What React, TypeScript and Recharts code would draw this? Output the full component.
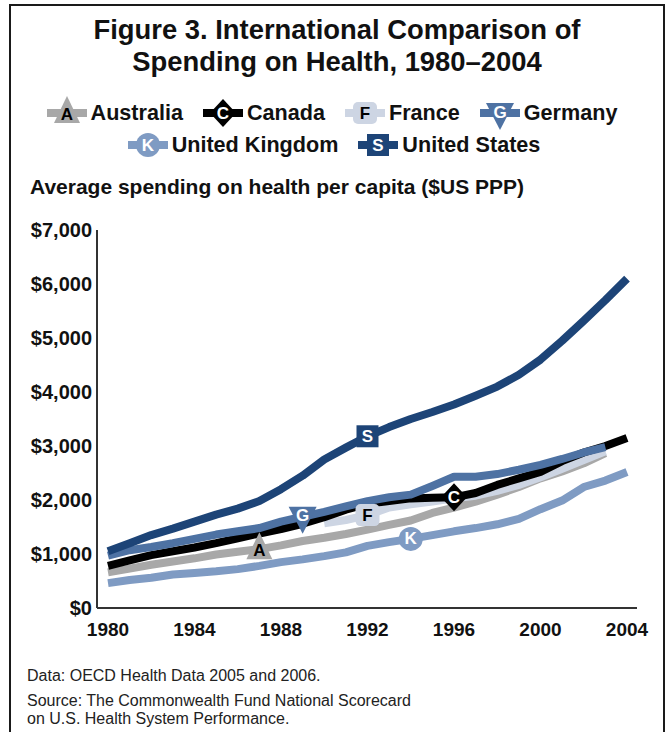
import React from 'react';
import { LineChart, Line, XAxis, YAxis } from 'recharts';

const years = [1980, 1981, 1982, 1983, 1984, 1985, 1986, 1987, 1988, 1989, 1990, 1991, 1992, 1993, 1994, 1995, 1996, 1997, 1998, 1999, 2000, 2001, 2002, 2003, 2004];

const australia = [660, 730, 800, 860, 920, 990, 1040, 1090, 1160, 1240, 1300, 1370, 1450, 1540, 1620, 1760, 1860, 1970, 2100, 2240, 2400, 2530, 2680, 2870, null];
const canada = [780, 880, 980, 1050, 1120, 1200, 1290, 1380, 1460, 1560, 1680, 1820, 1930, 1980, 2030, 2040, 2050, 2130, 2280, 2400, 2520, 2720, 2880, 3000, 3150];
const france = [null, null, null, null, null, null, null, null, null, null, 1570, 1630, 1720, 1860, 1920, 1970, 2030, 2080, 2170, 2280, 2420, 2580, 2740, 2900, null];
const germany = [970, 1070, 1130, 1200, 1280, 1360, 1420, 1480, 1600, 1690, 1780, 1880, 1980, 2050, 2100, 2260, 2430, 2430, 2480, 2560, 2650, 2760, 2880, 2980, null];
const unitedKingdom = [460, 520, 560, 620, 650, 680, 720, 780, 850, 900, 960, 1030, 1150, 1220, 1280, 1350, 1420, 1480, 1550, 1650, 1830, 1990, 2240, 2360, 2520];
const unitedStates = [1050, 1200, 1350, 1470, 1600, 1730, 1840, 1980, 2200, 2450, 2750, 2970, 3180, 3350, 3500, 3630, 3770, 3930, 4100, 4320, 4600, 4950, 5320, 5700, 6100];

const yTicks = [0, 1000, 2000, 3000, 4000, 5000, 6000, 7000];
const xTicks = [1980, 1984, 1988, 1992, 1996, 2000, 2004];

type Shape = 'triUp' | 'diamond' | 'box' | 'triDown' | 'circle' | 'square';
interface Series {
  key: string;
  name: string;
  values: (number | null)[];
  color: string;
  letter: string;
  letterColor: string;
  shape: Shape;
  markerYear: number;
}

const series: Series[] = [
  { key: 'australia', name: 'Australia', values: australia, color: '#a8a8a8', letter: 'A', letterColor: '#000', shape: 'triUp', markerYear: 1987 },
  { key: 'canada', name: 'Canada', values: canada, color: '#000000', letter: 'C', letterColor: '#fff', shape: 'diamond', markerYear: 1996 },
  { key: 'france', name: 'France', values: france, color: '#cdd5e3', letter: 'F', letterColor: '#000', shape: 'box', markerYear: 1992 },
  { key: 'germany', name: 'Germany', values: germany, color: '#4e72a3', letter: 'G', letterColor: '#fff', shape: 'triDown', markerYear: 1989 },
  { key: 'uk', name: 'United Kingdom', values: unitedKingdom, color: '#7f9bc3', letter: 'K', letterColor: '#fff', shape: 'circle', markerYear: 1994 },
  { key: 'us', name: 'United States', values: unitedStates, color: '#1d4477', letter: 'S', letterColor: '#fff', shape: 'square', markerYear: 1992 },
];

const drawOrder = ['australia', 'uk', 'france', 'canada', 'germany', 'us'];

const data = years.map((year, i) => {
  const row: Record<string, number | null> = { year };
  series.forEach((s) => {
    row[s.key] = s.values[i] ?? null;
  });
  return row;
});

const FONT = '"Liberation Sans", Arial, Helvetica, sans-serif';

function Marker({ s, x, y }: { s: Series; x: number; y: number }) {
  let shape: React.ReactNode = null;
  let ty = y;
  switch (s.shape) {
    case 'triUp':
      shape = <polygon points={`${x},${y - 17} ${x - 13},${y + 10} ${x + 13},${y + 10}`} fill={s.color} />;
      ty = y + 1;
      break;
    case 'diamond':
      shape = <polygon points={`${x},${y - 14} ${x + 13},${y} ${x},${y + 14} ${x - 13},${y}`} fill={s.color} />;
      break;
    case 'box':
      shape = <rect x={x - 12} y={y - 11} width={24} height={22} rx={5} fill={s.color} />;
      break;
    case 'triDown':
      shape = <polygon points={`${x - 14},${y - 10} ${x + 14},${y - 10} ${x},${y + 17}`} fill={s.color} />;
      ty = y - 1;
      break;
    case 'circle':
      shape = <circle cx={x} cy={y} r={12} fill={s.color} />;
      break;
    case 'square':
      shape = <rect x={x - 11} y={y - 11} width={22} height={22} fill={s.color} />;
      break;
  }
  return (
    <g>
      {shape}
      <text
        x={x}
        y={ty}
        textAnchor="middle"
        dominantBaseline="central"
        fontFamily={FONT}
        fontWeight="bold"
        fontSize={17}
        fill={s.letterColor}
      >
        {s.letter}
      </text>
    </g>
  );
}

const makeDot = (s: Series) => (props: any) => {
  const { cx, cy, payload, index } = props;
  if (!payload || payload.year !== s.markerYear || cx == null || cy == null || payload[s.key] == null) {
    return <g key={`dot-${s.key}-${index}`} />;
  }
  return (
    <g key={`dot-${s.key}-${index}`}>
      <Marker s={s} x={cx} y={cy} />
    </g>
  );
};

function LegendItem({ s }: { s: Series }) {
  return (
    <div style={{ display: 'flex', alignItems: 'center', marginRight: 20 }}>
      <svg width={40} height={34} style={{ display: 'block' }}>
        <line x1={0} y1={17} x2={40} y2={17} stroke={s.color} strokeWidth={8} />
        <Marker s={s} x={20} y={17} />
      </svg>
      <span style={{ marginLeft: 4, fontFamily: FONT, fontWeight: 'bold', fontSize: 21.6, color: '#111', lineHeight: '24px' }}>
        {s.name}
      </span>
    </div>
  );
}

const formatDollar = (v: number) => '$' + v.toLocaleString('en-US');

export default function App() {
  const byKey = (k: string) => series.find((s) => s.key === k)!;
  const row1 = series.slice(0, 4);
  const row2 = series.slice(4);
  return (
    <div style={{ position: 'absolute', left: 0, top: 0, width: 669, height: 732, overflow: 'hidden', background: '#fff' }}>
      <div
        style={{
          position: 'absolute',
          left: 9,
          top: 4,
          width: 656,
          height: 780,
          boxSizing: 'border-box',
          border: '2px solid #1a1a1a',
        }}
      />
      <div
        style={{
          position: 'absolute',
          left: 9,
          width: 656,
          top: 14,
          textAlign: 'center',
          fontFamily: FONT,
          fontWeight: 'bold',
          fontSize: 27.4,
          lineHeight: '32px',
          color: '#111',
        }}
      >
        <div>Figure 3. International Comparison of</div>
        <div>Spending on Health, 1980–2004</div>
      </div>
      <div style={{ position: 'absolute', left: 9, width: 656, top: 96, display: 'flex', justifyContent: 'center', paddingLeft: 10, boxSizing: 'border-box' }}>
        {row1.map((s) => (
          <LegendItem key={s.key} s={s} />
        ))}
      </div>
      <div style={{ position: 'absolute', left: 9, width: 656, top: 128, display: 'flex', justifyContent: 'center', paddingLeft: 14, boxSizing: 'border-box' }}>
        {row2.map((s) => (
          <LegendItem key={s.key} s={s} />
        ))}
      </div>
      <div
        style={{
          position: 'absolute',
          left: 30,
          top: 175,
          fontFamily: FONT,
          fontWeight: 'bold',
          fontSize: 21,
          lineHeight: '24px',
          color: '#111',
          whiteSpace: 'nowrap',
        }}
      >
        Average spending on health per capita ($US PPP)
      </div>
      <div style={{ position: 'absolute', left: 0, top: 0 }}>
        <LineChart width={669} height={732} data={data} margin={{ top: 230, right: 32, bottom: 94, left: 8 }}>
          <XAxis
            dataKey="year"
            type="number"
            domain={[1980, 2004]}
            ticks={xTicks}
            padding={{ left: 11, right: 10 }}
            height={30}
            tickLine={false}
            tickSize={0}
            tickMargin={15}
            axisLine={{ stroke: '#333', strokeWidth: 2 }}
            tick={{ fill: '#111', fontFamily: FONT, fontWeight: 'bold', fontSize: 19 }}
            interval={0}
          />
          <YAxis
            type="number"
            domain={[0, 7000]}
            ticks={yTicks}
            width={89}
            tickLine={false}
            tickSize={0}
            tickMargin={5}
            axisLine={{ stroke: '#333', strokeWidth: 2 }}
            tickFormatter={formatDollar}
            tick={{ fill: '#111', fontFamily: FONT, fontWeight: 'bold', fontSize: 20 }}
            interval={0}
          />
          {drawOrder.map((k) => {
            const s = byKey(k);
            return (
              <Line
                key={`line-${k}`}
                dataKey={k}
                type="linear"
                stroke={s.color}
                strokeWidth={8}
                strokeLinejoin="round"
                dot={false}
                activeDot={false}
                isAnimationActive={false}
                connectNulls={false}
              />
            );
          })}
          {drawOrder.map((k) => {
            const s = byKey(k);
            return (
              <Line
                key={`marker-${k}`}
                dataKey={k}
                type="linear"
                stroke="none"
                strokeWidth={0}
                dot={makeDot(s)}
                activeDot={false}
                isAnimationActive={false}
                legendType="none"
              />
            );
          })}
        </LineChart>
      </div>
      <div style={{ position: 'absolute', left: 27, top: 667, fontFamily: FONT, fontSize: 16, lineHeight: '18px', color: '#222' }}>
        Data: OECD Health Data 2005 and 2006.
      </div>
      <div style={{ position: 'absolute', left: 27, top: 692, fontFamily: FONT, fontSize: 16, lineHeight: '18px', color: '#222' }}>
        <div>Source: The Commonwealth Fund National Scorecard</div>
        <div>on U.S. Health System Performance.</div>
      </div>
    </div>
  );
}
